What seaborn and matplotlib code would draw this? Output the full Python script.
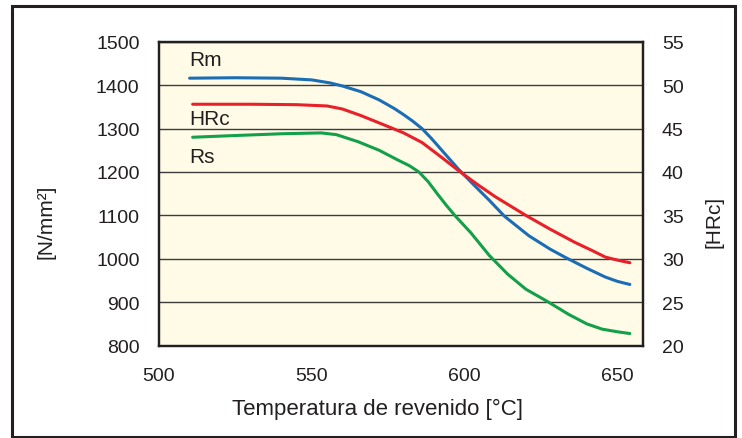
import matplotlib
matplotlib.use('Agg')
import matplotlib.pyplot as plt
from matplotlib.patches import Rectangle
import seaborn as sns

FONT = ['Liberation Sans', 'DejaVu Sans']
DPI = 100

# Rm (tensile strength), N/mm2
rm_temp = [510, 525, 540, 550, 556, 560, 566, 572, 577, 580, 583, 586, 589, 592,
           595, 598, 603, 608, 613, 621, 628, 633, 640, 646, 650, 654]
rm_vals = [1416, 1417, 1416, 1412, 1405, 1398, 1385, 1366, 1346, 1332, 1317, 1300,
           1278, 1254, 1230, 1206, 1170, 1135, 1098, 1053, 1022, 1003, 978, 958,
           948, 941]

# Rs (yield strength), N/mm2
rs_temp = [511, 525, 540, 553, 558, 565, 572, 578, 582, 585, 588, 591, 594, 597,
           602, 608, 614, 620, 627, 634, 640, 645, 650, 654]
rs_vals = [1280, 1284, 1288, 1290, 1286, 1270, 1250, 1228, 1214, 1200, 1178, 1150,
           1123, 1098, 1060, 1008, 965, 930, 902, 872, 850, 838, 832, 828]

# hardness, HRc (right axis)
hrc_temp = [511, 530, 545, 555, 560, 566, 572, 580, 586, 592, 598, 604, 610, 620,
            628, 636, 642, 646, 650, 654]
hrc_vals = [47.8, 47.8, 47.75, 47.6, 47.25, 46.5, 45.65, 44.5, 43.4, 41.8, 40.15,
            38.6, 37.15, 35.0, 33.4, 31.9, 30.9, 30.2, 29.85, 29.55]

x_ticks = [500, 550, 600, 650]
left_ticks = [800, 900, 1000, 1100, 1200, 1300, 1400, 1500]
right_ticks = [20, 25, 30, 35, 40, 45, 50, 55]

sns.set_style('white')
plt.rcParams['font.family'] = FONT

DARK = '#231f20'
BLUE = '#1b6db5'
RED = '#e8202a'
GREEN = '#13a04a'

fig = plt.figure(figsize=(7.42, 4.39), dpi=DPI)
fig.patch.set_facecolor('white')
fig.patches.append(Rectangle((12.5 / 742, 1 - 437.5 / 439), 722.5 / 742, 431 / 439,
                             transform=fig.transFigure, fill=False,
                             edgecolor=DARK, linewidth=2.2))

ax = fig.add_axes([159 / 742, 1 - 346.7 / 439, 484 / 742, 304 / 439])
ax.set_facecolor('#fffbe6')

sns.lineplot(x=rm_temp, y=rm_vals, ax=ax, color=BLUE, linewidth=2.2)
sns.lineplot(x=rs_temp, y=rs_vals, ax=ax, color=GREEN, linewidth=2.2)

ax.set_xlim(500, 658.3)
ax.set_ylim(800, 1500)
ax.set_xticks(x_ticks)
ax.set_yticks(left_ticks)
ax.yaxis.grid(True, color='#3c3c3a', linewidth=1.0)
ax.set_axisbelow(True)

ax2 = ax.twinx()
sns.lineplot(x=hrc_temp, y=hrc_vals, ax=ax2, color=RED, linewidth=2.2)
ax2.set_ylim(20, 55)
ax2.set_yticks(right_ticks)

for a in (ax, ax2):
    for s in a.spines.values():
        s.set_color(DARK)
        s.set_linewidth(1.6)
    a.set_xlabel('')
    a.set_ylabel('')

ax.tick_params(axis='x', direction='out', length=6.5, width=1.6, color=DARK,
               labelsize=14, pad=9, labelcolor=DARK)
ax.tick_params(axis='y', length=0, labelsize=14, pad=14, labelcolor=DARK)
ax2.tick_params(axis='y', length=0, labelsize=14, pad=13.5, labelcolor=DARK)

ax.text(510, 1458, 'Rm', fontsize=15, ha='left', va='center', color=DARK)
ax.text(510, 1324, 'HRc', fontsize=15, ha='left', va='center', color=DARK)
ax.text(510, 1235, 'Rs', fontsize=15, ha='left', va='center', color=DARK)

fig.text(377 / 742, 1 - 409 / 439, 'Temperatura de revenido [°C]', fontsize=16,
         ha='center', va='center', color=DARK)
fig.text(45.6 / 742, 1 - 222 / 439, '[N/mm²]', fontsize=15, rotation=90,
         ha='center', va='center', color=DARK)
fig.text(714 / 742, 1 - 222 / 439, '[HRc]', fontsize=15, rotation=90,
         ha='center', va='center', color=DARK)

fig.savefig('out.png', dpi=DPI)
